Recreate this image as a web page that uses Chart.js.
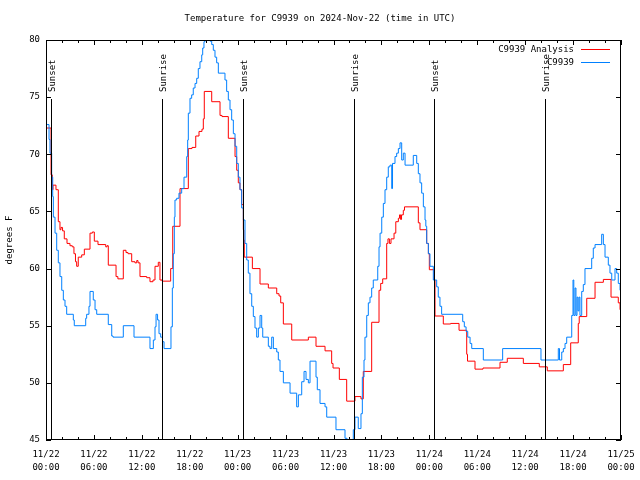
<!DOCTYPE html>
<html>
<head>
<meta charset="utf-8">
<script src="https://cdn.jsdelivr.net/npm/chart.js@4"></script>
<style>
  html, body { margin: 0; padding: 0; background: #fff; }
  #wrap { width: 640px; height: 480px; }
</style>
</head>
<body>
<div id="wrap"><canvas id="tempChart" width="640" height="480"></canvas></div>
<script>
// Hours since 11/22 00:00 UTC where each value starts, and the value (deg F)
const analysisHours = [0, 0.63, 0.79, 0.88, 1.25, 1.54, 1.75, 1.88, 2.07, 2.29, 2.63, 3.0, 3.29, 3.5, 3.69, 3.84,
  4.04, 4.47, 4.8, 5.51, 5.8, 6.05, 6.51, 7.48, 7.64, 7.8, 8.77, 9.0, 9.68, 10.02, 10.27, 10.73, 11.14, 11.36,
  11.52, 11.77, 12.61, 13.02, 13.4, 13.65, 14.06, 14.27, 14.53, 15.61, 15.87, 16.78, 17.82, 18.28, 18.75, 19.16,
  19.53, 19.7, 19.82, 20.75, 21.79, 22.04, 22.83, 23.67, 23.88, 24.08, 24.29, 24.5, 24.71, 24.77, 24.83, 25.84,
  26.8, 27.84, 28.89, 29.18, 29.39, 29.72, 30.77, 32.85, 33.81, 34.94, 35.77, 35.94, 36.73, 37.65, 38.69, 39.44,
  39.73, 40.78, 41.7, 41.91, 42.16, 42.66, 42.82, 43.0, 43.2, 43.58, 43.8, 44.12, 44.27, 44.4, 44.52, 44.74,
  44.89, 46.62, 46.83, 47.67, 47.88, 48.0, 48.58, 48.71, 49.75, 50.67, 51.72, 52.68, 52.78, 53.72, 54.72, 56.85,
  57.76, 59.77, 61.77, 62.77, 64.78, 65.7, 66.65, 66.77, 67.71, 68.75, 69.79, 70.75, 71.66, 71.88, 72];
const analysisTemps = [72.3, 68.2, 66.9, 67.3, 66.9, 64.1, 63.4, 63.6, 63.3, 62.6, 62.2, 62.0, 61.9, 61.3, 60.6, 60.2,
  61.0, 61.2, 61.7, 63.1, 63.2, 62.4, 62.1, 61.9, 62.0, 60.3, 59.3, 59.1, 61.6, 61.4, 61.3, 60.6, 60.5, 60.7,
  60.5, 59.3, 59.2, 58.85, 59.0, 60.2, 60.55, 59.0, 58.9, 60.0, 63.7, 67.0, 70.5, 70.6, 71.6, 72.0,
  72.2, 73.1, 75.5, 74.6, 73.4, 73.3, 71.4, 69.8, 68.6, 67.5, 66.9, 65.6, 63.4, 62.5, 61.0, 60.0,
  58.65, 58.3, 57.8, 57.6, 57.0, 55.15, 53.75, 54.0, 53.2, 52.8, 51.7, 51.3, 50.3, 48.4, 48.8, 48.6,
  51.0, 55.3, 58.1, 58.7, 59.1, 62.2, 62.6, 62.2, 62.6, 63.1, 64.1, 64.4, 64.7, 64.3, 64.7, 65.1,
  65.4, 64.0, 63.4, 62.2, 61.3, 59.9, 59.0, 55.85, 55.15, 55.2, 54.6, 52.5, 51.9, 51.2, 51.3, 51.8,
  52.15, 51.7, 51.4, 51.05, 51.6, 53.5, 55.2, 55.8, 57.4, 58.8, 59.05, 57.5, 57.0, 56.4, 56.4];

const obsHours = [0, 0.38, 0.5, 0.71, 0.84, 0.92, 1.13, 1.34, 1.54, 1.75, 1.97, 2.17, 2.38, 2.59, 3.42, 3.54,
  4.97, 5.09, 5.38, 5.51, 5.92, 6.14, 6.35, 7.8, 8.23, 8.39, 9.68, 11.02, 13.02, 13.44, 13.65, 13.78, 13.97,
  14.15, 14.36, 14.59, 14.78, 15.65, 15.82, 15.94, 16.07, 16.15, 16.36, 16.65, 16.99, 17.28, 17.62, 17.74, 17.82,
  18.03, 18.24, 18.44, 18.66, 18.87, 19.07, 19.28, 19.5, 19.62, 19.78, 19.91, 20.03, 20.16, 20.28, 20.54, 20.75,
  20.95, 21.16, 21.37, 21.58, 22.41, 22.62, 22.83, 23.04, 23.25, 23.46, 23.67, 23.88, 24.08, 24.29, 24.5, 24.71,
  24.92, 25.13, 25.33, 25.54, 25.76, 25.96, 26.17, 26.38, 26.59, 26.8, 27.01, 27.14, 27.84, 28.05, 28.26, 28.47,
  28.89, 29.09, 29.3, 29.72, 30.56, 31.39, 31.6, 32.02, 32.31, 32.56, 32.85, 33.06, 33.81, 33.97, 34.31, 34.94,
  35.15, 36.31, 37.44, 37.69, 38.48, 38.69, 39.1, 39.44, 39.61, 39.82, 39.94, 40.16, 40.36, 40.57, 40.78, 40.98,
  41.54, 41.7, 41.83, 42.04, 42.24, 42.45, 42.66, 42.86, 43.07, 43.29, 43.39, 43.7, 43.91, 44.12, 44.33, 44.54,
  44.74, 44.96, 45.99, 46.42, 46.62, 46.83, 47.04, 47.25, 47.46, 47.56, 47.67, 47.88, 48.08, 48.5, 48.92, 49.12,
  49.33, 49.54, 52.18, 52.38, 52.6, 52.81, 53.1, 53.31, 54.76, 57.18, 61.98, 64.15, 64.3, 64.58, 64.78, 64.99,
  65.2, 65.83, 65.99, 66.09, 66.24, 66.36, 66.49, 66.61, 66.74, 66.86, 67.08, 67.28, 67.49, 68.33, 68.53, 68.75,
  69.58, 69.79, 70.0, 70.41, 70.62, 70.84, 71.25, 71.46, 71.66, 71.88, 72];
const obsTemps = [72.6, 71.3, 70.1, 68.0, 66.3, 64.5, 63.1, 61.6, 60.5, 59.3, 58.1, 57.25, 56.7, 56.0, 55.5, 55.0,
  55.65, 56.0, 56.7, 58.0, 57.25, 56.4, 56.0, 55.1, 54.1, 54.0, 55.0, 54.0, 53.0, 53.75, 54.9, 56.0, 55.5,
  54.3, 54.0, 53.6, 53.0, 54.9, 58.3, 61.3, 64.5, 66.0, 66.15, 66.6, 67.0, 68.0, 69.8, 71.25, 73.6,
  74.9, 75.2, 75.8, 76.2, 76.65, 77.5, 78.1, 78.7, 79.3, 79.85, 80.5, 80.0, 80.5, 80.2, 79.9, 79.6,
  79.1, 78.5, 78.0, 77.1, 76.5, 75.5, 74.75, 73.9, 73.0, 71.8, 70.7, 69.2, 68.0, 66.9, 65.3, 64.25,
  62.2, 60.75, 59.6, 57.8, 56.7, 55.8, 54.8, 54.0, 54.8, 55.9, 54.8, 54.0, 53.2, 53.0, 54.0, 53.0,
  52.7, 52.0, 51.0, 50.0, 49.1, 47.9, 48.95, 50.1, 51.0, 50.3, 50.0, 51.9, 50.5, 49.4, 48.2, 47.9,
  47.0, 45.9, 45.15, 44.5, 45.9, 47.0, 46.0, 47.3, 50.5, 52.0, 54.0, 55.9, 57.0, 57.5, 58.3, 59.0,
  60.2, 61.9, 63.1, 64.5, 65.7, 66.9, 68.0, 68.9, 69.05, 67.0, 69.2, 69.8, 70.1, 70.5, 71.0, 69.5,
  70.1, 69.05, 69.9, 69.2, 68.3, 67.5, 66.6, 65.4, 64.25, 63.7, 62.2, 61.3, 60.2, 59.0, 58.4, 57.5,
  56.7, 56.0, 55.35, 54.9, 54.5, 54.0, 53.45, 53.0, 52.0, 53.0, 52.0, 53.0, 52.0, 52.7, 53.0, 53.45,
  54.0, 55.9, 59.0, 55.9, 58.3, 55.9, 57.5, 56.3, 57.5, 55.9, 58.0, 58.6, 60.0, 60.9, 61.8, 62.1,
  63.0, 62.1, 61.0, 60.3, 59.6, 59.0, 60.0, 59.6, 58.7, 58.1, 57.8];

// Sun events (hours since 11/22 00:00 UTC)
const sunEvents = ["Sunset", "Sunrise", "Sunset", "Sunrise", "Sunset", "Sunrise"];
const sunHours = [0.63, 14.55, 24.69, 38.6, 48.62, 62.52];

const seriesNames = ["C9939 Analysis", "C9939"];
const xTickLabels = [
  ["11/22", "00:00"], ["11/22", "06:00"], ["11/22", "12:00"], ["11/22", "18:00"],
  ["11/23", "00:00"], ["11/23", "06:00"], ["11/23", "12:00"], ["11/23", "18:00"],
  ["11/24", "00:00"], ["11/24", "06:00"], ["11/24", "12:00"], ["11/24", "18:00"],
  ["11/25", "00:00"]
];
const yTicks = [45, 50, 55, 60, 65, 70, 75, 80];

const FONT = "DejaVu Sans Mono";
const colors = ["#ff0000", "#0080ff"];

function toPoints(hours, temps) {
  return hours.map((h, i) => ({ x: h, y: temps[i] }));
}

// Border, inward ticks, sun markers, legend and titles (gnuplot look)
const gnuplotDecor = {
  id: "gnuplotDecor",
  afterDatasetsDraw(chart) {
    const { ctx, chartArea: a, scales: { x, y } } = chart;
    ctx.save();
    ctx.strokeStyle = "#000";
    ctx.lineWidth = 1;

    // sunrise / sunset lines
    ctx.fillStyle = "#000";
    ctx.font = "9px " + FONT;
    sunHours.forEach((h, i) => {
      const px = Math.round(x.getPixelForValue(h)) + 0.5;
      ctx.beginPath();
      ctx.moveTo(px, a.bottom);
      ctx.lineTo(px, a.top + 59);
      ctx.stroke();
      ctx.save();
      ctx.translate(px + 1, a.top + 52);
      ctx.rotate(-Math.PI / 2);
      ctx.textAlign = "left";
      ctx.textBaseline = "middle";
      ctx.fillText(sunEvents[i], 0, 0);
      ctx.restore();
    });

    // frame
    ctx.strokeRect(a.left + 0.5, a.top + 0.5, a.right - a.left - 1, a.bottom - a.top - 1);

    // x ticks every 2h, longer every 6h
    for (let h = 0; h <= 72; h += 2) {
      const px = Math.round(x.getPixelForValue(h)) + 0.5;
      const len = h % 6 === 0 ? 5 : 3;
      ctx.beginPath();
      ctx.moveTo(px, a.bottom);
      ctx.lineTo(px, a.bottom - len);
      ctx.moveTo(px, a.top);
      ctx.lineTo(px, a.top + len);
      ctx.stroke();
    }
    yTicks.forEach(v => {
      const py = Math.round(y.getPixelForValue(v)) + 0.5;
      ctx.beginPath();
      ctx.moveTo(a.left, py);
      ctx.lineTo(a.left + 5, py);
      ctx.moveTo(a.right, py);
      ctx.lineTo(a.right - 5, py);
      ctx.stroke();
    });

    // legend
    ctx.textAlign = "right";
    ctx.textBaseline = "middle";
    seriesNames.forEach((name, i) => {
      const ly = a.top + 9.5 + i * 13;
      ctx.fillStyle = "#000";
      ctx.fillText(name, a.right - 47, ly);
      ctx.strokeStyle = colors[i];
      ctx.beginPath();
      ctx.moveTo(a.right - 40, ly);
      ctx.lineTo(a.right - 11, ly);
      ctx.stroke();
    });

    // titles
    ctx.fillStyle = "#000";
    ctx.textAlign = "center";
    ctx.fillText("Temperature for C9939 on 2024-Nov-22 (time in UTC)", 320, 19);
    ctx.save();
    ctx.translate(10, (a.top + a.bottom) / 2);
    ctx.rotate(-Math.PI / 2);
    ctx.fillText("degrees F", 0, 0);
    ctx.restore();
    ctx.restore();
  }
};

new Chart(document.getElementById("tempChart"), {
  type: "line",
  data: {
    datasets: [
      { label: seriesNames[0], data: toPoints(analysisHours, analysisTemps), borderColor: colors[0],
        borderWidth: 1, pointRadius: 0, stepped: true, order: 2 },
      { label: seriesNames[1], data: toPoints(obsHours, obsTemps), borderColor: colors[1],
        borderWidth: 1, pointRadius: 0, stepped: true, order: 1 }
    ]
  },
  options: {
    responsive: false,
    animation: false,
    layout: { padding: { top: 40, right: 19, left: 0, bottom: 0 } },
    plugins: { legend: { display: false }, tooltip: { enabled: false }, title: { display: false } },
    scales: {
      x: {
        type: "linear", min: 0, max: 72,
        grid: { display: false, drawTicks: false },
        border: { display: false },
        afterFit: s => { s.height = 40; s.paddingLeft = 0; s.paddingRight = 0; },
        afterBuildTicks: s => { s.ticks = xTickLabels.map((_, i) => ({ value: i * 6 })); },
        ticks: {
          color: "#000", maxRotation: 0, autoSkip: false, padding: 8,
          font: { family: FONT, size: 9, lineHeight: 1.45 },
          callback: v => xTickLabels[v / 6]
        }
      },
      y: {
        min: 45, max: 80,
        grid: { display: false, drawTicks: false },
        border: { display: false },
        afterFit: s => { s.width = 46; s.paddingTop = 0; s.paddingBottom = 0; },
        afterBuildTicks: s => { s.ticks = yTicks.map(v => ({ value: v })); },
        ticks: { color: "#000", padding: 6, font: { family: FONT, size: 9 } }
      }
    }
  },
  plugins: [gnuplotDecor]
});
</script>
</body>
</html>
